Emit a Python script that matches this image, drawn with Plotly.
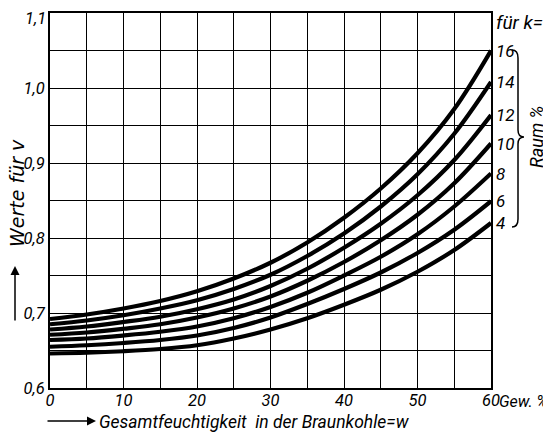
import plotly.graph_objects as go

# moisture content w (Gew. %)
w = [0, 5, 10, 15, 20, 25, 30, 35, 40, 45, 50, 55, 60]

# k values (Raum %)
k_labels = ["16", "14", "12", "10", "8", "6", "4"]

v_k16 = [0.692, 0.698, 0.706, 0.716, 0.729, 0.746, 0.767, 0.794, 0.827, 0.866, 0.913, 0.972, 1.050]
v_k14 = [0.685, 0.690, 0.697, 0.706, 0.717, 0.732, 0.751, 0.776, 0.806, 0.842, 0.885, 0.939, 1.008]
v_k12 = [0.678, 0.682, 0.688, 0.695, 0.705, 0.718, 0.736, 0.759, 0.787, 0.819, 0.857, 0.904, 0.964]
v_k10 = [0.671, 0.674, 0.679, 0.685, 0.694, 0.706, 0.722, 0.743, 0.768, 0.797, 0.831, 0.873, 0.926]
v_k8 = [0.664, 0.666, 0.670, 0.675, 0.682, 0.693, 0.708, 0.727, 0.750, 0.775, 0.805, 0.842, 0.886]
v_k6 = [0.655, 0.657, 0.660, 0.664, 0.670, 0.680, 0.694, 0.712, 0.732, 0.754, 0.780, 0.811, 0.849]
v_k4 = [0.646, 0.647, 0.649, 0.652, 0.657, 0.666, 0.678, 0.693, 0.711, 0.731, 0.755, 0.784, 0.820]

series = [v_k16, v_k14, v_k12, v_k10, v_k8, v_k6, v_k4]

x_tickvals = [0, 10, 20, 30, 40, 50, 60]
x_ticktext = ["0", "10", "20", "30", "40", "50", "60"]
y_tickvals = [0.6, 0.7, 0.8, 0.9, 1.0, 1.1]
y_ticktext = ["0,6", "0,7", "0,8", "0,9", "1,0", "1,1"]

FONT = "Roboto, Liberation Sans, sans-serif"
FONT_WIDE = "DejaVu Sans, Roboto, sans-serif"
OFF = 8  # page body margin
W, H = 551 - OFF, 434 - OFF
# plot area in page pixels: x 50..491, y 13..388
ML, MT = 50 - OFF, 13 - OFF
MR = W - (491 - OFF)
MB = H - (388 - OFF)
PW, PH = W - ML - MR, H - MT - MB


def px(xp):
    return (xp - OFF - ML) / PW


def py(yp):
    return (H - MB - (yp - OFF)) / PH


fig = go.Figure()
for lab, vals in zip(k_labels, series):
    fig.add_trace(go.Scatter(
        x=w, y=vals, mode="lines", name=lab,
        line=dict(color="black", width=4.2, shape="spline", smoothing=1.0),
        hoverinfo="skip", showlegend=False,
    ))
    fig.add_annotation(
        x=w[-1], y=vals[-1], xref="x", yref="y", text=lab, showarrow=False,
        xanchor="left", yanchor="middle", xshift=3,
        font=dict(family=FONT, size=17, color="black", style="italic"),
    )

tick_font = dict(family=FONT, size=16.5, color="black", style="italic")
axis_common = dict(
    showgrid=True, gridcolor="black", gridwidth=1.3,
    showline=True, mirror=True, linecolor="black", linewidth=2,
    zeroline=False, ticks="", automargin=False, ticklabeloverflow="allow",
    tickfont=tick_font,
)

fig.update_xaxes(
    range=[0, 60], tickvals=x_tickvals, ticktext=x_ticktext,
    minor=dict(dtick=5, showgrid=True, gridcolor="black", gridwidth=1.3),
    ticklabelstandoff=-4,
    **axis_common,
)
# top label (1,1) drawn as annotation so it stays inside the page
fig.update_yaxes(
    range=[0.6, 1.1], tickvals=y_tickvals[:-1], ticktext=y_ticktext[:-1],
    minor=dict(dtick=0.05, showgrid=True, gridcolor="black", gridwidth=1.3),
    **axis_common,
)
fig.add_annotation(xref="paper", yref="y", x=0, y=y_tickvals[-1],
                   text=y_ticktext[-1], showarrow=False,
                   xanchor="right", yanchor="top", xshift=-2, yshift=6,
                   font=tick_font)

ann_font = dict(family=FONT, color="black", style="italic")

fig.add_annotation(xref="paper", yref="paper", x=px(494), y=py(22),
                   text="für k=", showarrow=False, xanchor="left", yanchor="middle",
                   font=dict(size=19, **ann_font))
fig.add_annotation(xref="paper", yref="paper", x=px(497), y=py(401),
                   text="Gew. %", showarrow=False, xanchor="left", yanchor="middle",
                   font=dict(size=16, **ann_font))
fig.add_annotation(xref="paper", yref="paper", x=px(536), y=py(137),
                   text="Raum %", showarrow=False, textangle=-90,
                   xanchor="center", yanchor="middle",
                   font=dict(size=18, **ann_font))
# x title with arrow
fig.add_annotation(xref="paper", yref="paper", x=px(97), y=py(422),
                   text="Gesamtfeuchtigkeit  in der Braunkohle=w",
                   showarrow=False, xanchor="left", yanchor="middle",
                   font=dict(size=17.5, **ann_font))
fig.add_annotation(xref="paper", yref="paper", x=px(96), y=py(421),
                   ax=-50, ay=0, axref="pixel", ayref="pixel",
                   text="", showarrow=True, arrowhead=2, arrowsize=1.2,
                   arrowwidth=1.5, arrowcolor="black")
# y title with arrow
fig.add_annotation(xref="paper", yref="paper", x=px(17), y=py(193),
                   text="Werte für v", showarrow=False, textangle=-90,
                   xanchor="center", yanchor="middle",
                   font=dict(family=FONT_WIDE, size=19, color="black", style="italic"))
fig.add_annotation(xref="paper", yref="paper", x=px(15), y=py(266),
                   ax=0, ay=56, axref="pixel", ayref="pixel",
                   text="", showarrow=True, arrowhead=2, arrowsize=1.2,
                   arrowwidth=1.5, arrowcolor="black")

# curly brace
pts = [(512, 50), (518, 50), (518, 58), (518, 130), (518, 137), (524, 137),
       (518, 137), (518, 144), (518, 219), (518, 227), (512, 227)]
P = [(px(a), py(b)) for a, b in pts]
path = (f"M {P[0][0]},{P[0][1]} Q {P[1][0]},{P[1][1]} {P[2][0]},{P[2][1]} "
        f"L {P[3][0]},{P[3][1]} Q {P[4][0]},{P[4][1]} {P[5][0]},{P[5][1]} "
        f"Q {P[6][0]},{P[6][1]} {P[7][0]},{P[7][1]} "
        f"L {P[8][0]},{P[8][1]} Q {P[9][0]},{P[9][1]} {P[10][0]},{P[10][1]}")
fig.add_shape(type="path", path=path, xref="paper", yref="paper",
              line=dict(color="black", width=1.5))

fig.update_layout(
    width=W, height=H,
    margin=dict(l=ML, r=MR, t=MT, b=MB, pad=0),
    paper_bgcolor="white", plot_bgcolor="white",
    showlegend=False,
)

fig.write_html("out.html")
